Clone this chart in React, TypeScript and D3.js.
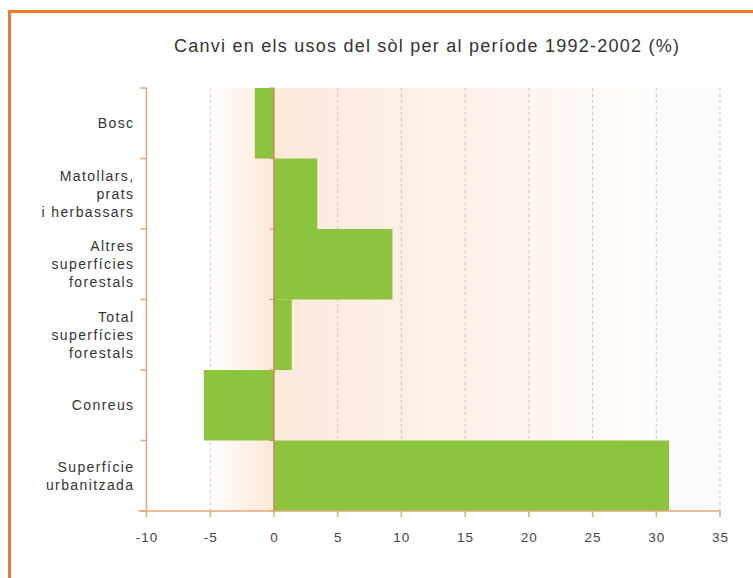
import React from "react";
import * as d3 from "d3";

const TITLE = "Canvi en els usos del sòl per al període 1992-2002 (%)";
const categories: string[][] = [
  ["Bosc"],
  ["Matollars,", "prats", "i herbassars"],
  ["Altres", "superfícies", "forestals"],
  ["Total", "superfícies", "forestals"],
  ["Conreus"],
  ["Superfície", "urbanitzada"],
];
const values: number[] = [-1.5, 3.4, 9.3, 1.4, -5.5, 31.0];
const xTicks: number[] = [-10, -5, 0, 5, 10, 15, 20, 25, 30, 35];

export default function App() {
  const W = 753, H = 578;
  const left = 146.5, right = 720, top = 88, bottom = 511;
  const x = d3.scaleLinear().domain([-10, 35]).range([left, right]);
  const y = d3.scaleBand<number>().domain(d3.range(categories.length)).range([top, bottom]).padding(0);
  const bw = y.bandwidth();
  const axisColor = "#e3a67c";
  const zeroColor = "#c98a55";
  const green = "#8cc43e";
  const gp = (v: number) => ((x(v) - left) / (right - left)) * 100 + "%";
  return (
    <svg width={W} height={H} style={{ position: "absolute", left: 0, top: 0, background: "#fff" }}
      fontFamily="'Liberation Sans', Arial, sans-serif">
      <defs>
        <linearGradient id="bg" x1="0" x2="1" y1="0" y2="0">
          <stop offset={gp(-10)} stopColor="#ffffff" />
          <stop offset={gp(-5)} stopColor="#ffffff" />
          <stop offset={gp(-0.5)} stopColor="#fce9dc" />
          <stop offset={gp(8)} stopColor="#fdeee4" />
          <stop offset={gp(20)} stopColor="#fef5ef" />
          <stop offset={gp(28)} stopColor="#fffcfa" />
          <stop offset={gp(35)} stopColor="#fbfcff" />
        </linearGradient>
      </defs>
      <rect x={9.5} y={11.5} width={W + 20} height={H + 20} fill="none" stroke="#ef7a2a" strokeWidth={3} />
      <text x={174} y={52} fontSize={18} fill="#333" textLength={505} lengthAdjust="spacing">{TITLE}</text>
      <rect x={left} y={top} width={right - left} height={bottom - top} fill="url(#bg)" />
      {xTicks.filter(t => t !== -10 && t !== 0).map(t => (
        <line key={t} x1={x(t)} x2={x(t)} y1={top} y2={bottom} stroke="#d8bdb4" strokeWidth={1} strokeDasharray="3,3" />
      ))}
      {values.map((v, i) => (
        <rect key={i} x={x(Math.min(0, v))} y={y(i)!} width={Math.abs(x(v) - x(0))} height={bw} fill={green} />
      ))}
      <line x1={x(0)} x2={x(0)} y1={top} y2={bottom} stroke={zeroColor} strokeWidth={1.5} />
      {d3.range(categories.length + 1).map(i => {
        const yy = top + i * bw;
        return (
          <g key={i}>
            <line x1={left - 6} x2={left} y1={yy} y2={yy} stroke={axisColor} strokeWidth={1.5} />
            <line x1={x(0) - 4} x2={x(0)} y1={yy} y2={yy} stroke={zeroColor} strokeWidth={1} />
          </g>
        );
      })}
      <line x1={left} x2={left} y1={top} y2={bottom} stroke={axisColor} strokeWidth={1.5} />
      <line x1={left - 8} x2={right} y1={bottom} y2={bottom} stroke={axisColor} strokeWidth={1.5} />
      {xTicks.map(t => (
        <g key={t}>
          <line x1={x(t)} x2={x(t)} y1={bottom} y2={bottom + 6} stroke={axisColor} strokeWidth={1.5} />
          <text x={x(t) + 0.5} y={542} textAnchor="middle" fontSize={13.5} letterSpacing={1} fill="#444">{t}</text>
        </g>
      ))}
      {categories.map((lines, i) => {
        const cy = y(i)! + bw / 2;
        const lh = 18;
        const start = cy - ((lines.length - 1) * lh) / 2;
        return (
          <text key={i} textAnchor="end" fontSize={14} letterSpacing={1.4} fill="#333">
            {lines.map((l, j) => (
              <tspan key={j} x={134.5} y={start + j * lh + 5}>{l}</tspan>
            ))}
          </text>
        );
      })}
    </svg>
  );
}
